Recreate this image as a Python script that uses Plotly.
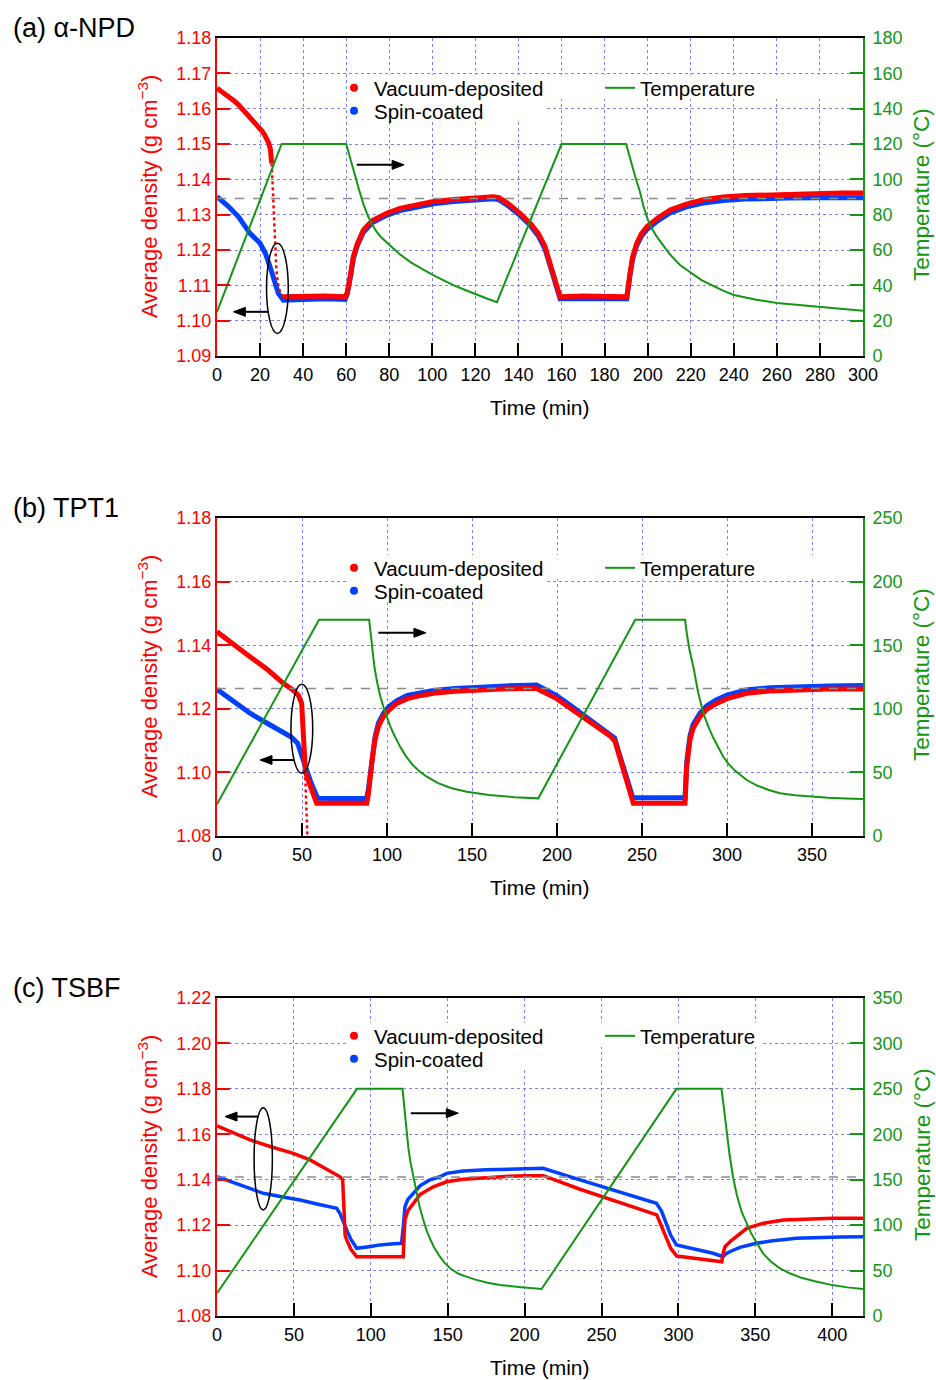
import plotly.graph_objects as go

# ------------------------------------------------------------------ data
# (a) alpha-NPD
ta_vac1 = [0, 2, 4, 6, 8, 10, 12, 14, 16, 18, 20, 21, 22, 23, 24, 24.8, 25.4]
da_vac1 = [1.1658, 1.1650, 1.1641, 1.1632, 1.1622, 1.1611, 1.1598, 1.1585, 1.1572, 1.1559,
           1.1544, 1.1536, 1.1527, 1.1517, 1.1503, 1.1485, 1.1445]
ta_vac_drop = [25.4, 26.2, 26.9, 27.6, 28.5, 29.5, 30.8]
da_vac_drop = [1.1445, 1.133, 1.121, 1.114, 1.1096, 1.1078, 1.1068]
ta_vac2 = [30.8, 40, 50, 59.5, 60.5, 62, 63.3, 65, 68, 72, 78.8, 85, 92, 100.5, 110, 120,
           128.3, 131, 135, 140.7, 145.4, 149.2, 152.3, 155, 157.5, 159.3, 170, 180, 190.3,
           191.8, 193, 194.9, 197, 199.6, 205, 210.4, 218, 225.8, 235, 245, 253.7, 265, 280,
           290, 300]
da_vac2 = [1.1068, 1.107, 1.107, 1.1068, 1.108, 1.113, 1.1181, 1.1215, 1.1257, 1.1283, 1.1304,
           1.1318, 1.1328, 1.1337, 1.1343, 1.1348, 1.1351, 1.1348, 1.1332, 1.1304, 1.1276,
           1.1247, 1.121, 1.1155, 1.110, 1.1068, 1.107, 1.107, 1.1068, 1.1134, 1.118, 1.1219,
           1.1245, 1.1266, 1.1292, 1.1313, 1.133, 1.1342, 1.135, 1.1354, 1.1356, 1.1358,
           1.136, 1.1361, 1.1361]
ta_spin = [0, 5, 10, 15.3, 20, 22.5, 24.6, 26.5, 28.5, 30.8, 40, 50, 59.5, 60.5, 62, 63.3, 65,
           68, 72, 78.8, 85, 92, 100.5, 110, 120, 128.3, 131, 135, 140.7, 145.4, 149.2, 152.3,
           155, 157.5, 159.3, 170, 180, 190.3, 191.8, 193, 194.9, 197, 199.6, 205, 210.4, 218,
           225.8, 235, 245, 253.7, 265, 280, 290, 300]
da_spin = [1.1351, 1.1325, 1.1294, 1.1247, 1.1219, 1.119, 1.1153, 1.1115, 1.1077, 1.1058,
           1.106, 1.1062, 1.106, 1.1075, 1.1125, 1.1175, 1.121, 1.125, 1.1277, 1.1298, 1.1312,
           1.1322, 1.1331, 1.1337, 1.1342, 1.1345, 1.1342, 1.1326, 1.1298, 1.127, 1.124,
           1.1203, 1.115, 1.1098, 1.1062, 1.1063, 1.1064, 1.1062, 1.1128, 1.1174, 1.1212,
           1.1238, 1.1258, 1.1284, 1.1305, 1.1322, 1.1333, 1.134, 1.1344, 1.1346, 1.1347,
           1.1348, 1.1348, 1.1348]
ta_temp = [0, 30, 60, 62, 64, 66, 68, 70, 72, 74, 76, 78, 80, 85, 90, 95, 100, 105, 110, 115,
           120, 125, 130, 160, 190, 192, 194, 196.4, 198, 200, 202, 204, 206, 208, 210, 215, 220,
           225, 230, 235, 240, 250, 260, 270, 280, 290, 300]
Ta_temp = [25, 120, 120, 111, 102.5, 94, 86, 79.5, 74.5, 70.5, 67.5, 65, 63, 57.5, 53, 49.5,
           46, 43, 40, 37.5, 35, 32.7, 30.5, 120, 120, 111, 102.5, 93, 85, 77.5, 72, 68, 64.5,
           61, 58, 51.5, 47, 43, 40, 37, 34.5, 32, 30, 28.8, 27.7, 26.6, 25.6]
ref_a = 1.1346

# (b) TPT1
tb_vac1 = [0, 10, 19.4, 30, 39, 45, 47.8, 49.8, 50.6, 51.4, 52, 53, 55.5, 58.6, 70, 80, 88.1,
           89, 90, 91.5, 92.9, 95, 97.8, 101, 105.7, 112, 120, 127.2, 140, 155, 170, 184.1,
           188, 199.8, 207, 215.5, 223, 231.2, 234.1, 236, 238.5, 240.5, 242.9, 244.9, 255,
           265, 275.3, 276.3, 277.2, 278.2, 280, 284.1, 288, 293.9, 300, 311.6, 325, 340, 360,
           380]
db_vac1 = [1.1442, 1.1404, 1.1364, 1.1322, 1.128, 1.1258, 1.1243, 1.1217, 1.115, 1.106, 1.1003,
           1.0985, 1.0945, 1.0903, 1.0903, 1.0903, 1.0903, 1.093, 1.0986, 1.105, 1.1102, 1.1145,
           1.1175, 1.1195, 1.1217, 1.1232, 1.1242, 1.1249, 1.1255, 1.126, 1.1263, 1.1264,
           1.1264, 1.1232, 1.1205, 1.1172, 1.1145, 1.1115, 1.1098, 1.1062, 1.1014, 1.0976,
           1.0928, 1.0903, 1.0903, 1.0903, 1.0903, 1.1018, 1.1065, 1.1102, 1.1138, 1.1175,
           1.1198, 1.1217, 1.1232, 1.1249, 1.1256, 1.126, 1.1262, 1.1262]
tb_vac_drop = [51.8, 52.3, 52.8, 53.3]
db_vac_drop = [1.1003, 1.092, 1.085, 1.078]
tb_spin = [0, 10, 19.4, 30, 43.5, 47.4, 50.4, 53.4, 56, 59.3, 70, 80, 88, 89, 90, 91.5, 93, 95,
           98, 101, 105.8, 112, 120, 127.3, 140, 155, 170, 188, 199.6, 207, 215.2, 223, 231,
           233.9, 236, 238.5, 240.5, 242.7, 244.6, 255, 265, 275.3, 276.3, 277.2, 278.2, 280,
           284.1, 288, 293.6, 300, 311.2, 325, 340, 360, 380]
db_spin = [1.1261, 1.1224, 1.1186, 1.1153, 1.1112, 1.1092, 1.1039, 1.0997, 1.0958, 1.0919,
           1.0918, 1.0918, 1.0918, 1.0945, 1.0995, 1.1058, 1.1112, 1.1156, 1.1186, 1.1206,
           1.1226, 1.1242, 1.1252, 1.1258, 1.1264, 1.1269, 1.1272, 1.1275, 1.1242, 1.1214,
           1.1182, 1.1153, 1.1124, 1.1108, 1.107, 1.1025, 1.099, 1.0955, 1.092, 1.092, 1.092,
           1.092, 1.1032, 1.1078, 1.1114, 1.115, 1.1186, 1.1209, 1.1228, 1.1243, 1.1259,
           1.1266, 1.127, 1.1272, 1.1273]
tb_temp = [0, 60, 89.5, 90.5, 91.5, 92.5, 94, 96, 98, 100, 102, 104, 106, 108, 111, 115, 119,
           123.4, 130, 138, 147, 160, 175, 189, 246, 275.3, 276.5, 278, 280.2, 283, 286.1, 289,
           292, 295, 297.8, 301, 305, 311.6, 318, 325, 331.2, 340, 350, 359.4, 370, 380]
Tb_temp = [25, 170, 170, 157, 145, 134, 122, 110, 101, 93, 86, 80, 74.5, 69.5, 63, 56, 51,
           46.6, 41.5, 37.5, 34.8, 32.3, 30.5, 29.6, 170, 170, 158, 146, 133, 113, 96.5, 86, 77,
           69, 62.3, 56.5, 51, 44, 39.5, 36, 33.6, 32, 30.8, 30, 29.4, 29]
ref_b = 1.1264

# (c) TSBF
tc_vac1 = [0, 10, 21.5, 35, 49.6, 60.5, 70, 80, 81.7, 82.2, 82.6, 83.3, 84.3, 87, 90.8, 100,
           110, 121.1, 121.6, 122.2, 124, 127.6, 132, 140.6, 149.3, 160, 175, 190, 200, 210,
           212.2, 236, 260, 285.9, 289, 292, 295, 298.9, 310, 320, 328.2, 329, 330.3, 334, 340,
           344.4, 350, 355.2, 368.2, 380, 400, 420]
dc_vac1 = [1.1637, 1.1608, 1.1575, 1.1545, 1.1516, 1.1487, 1.145, 1.1413, 1.1399, 1.13,
           1.1193, 1.1155, 1.1135, 1.1095, 1.1061, 1.1061, 1.1061, 1.1061, 1.115, 1.1223,
           1.1262, 1.1296, 1.1335, 1.1369, 1.1391, 1.1402, 1.141, 1.1415, 1.1418, 1.1421,
           1.1418, 1.1358, 1.1302, 1.1245, 1.1195, 1.1145, 1.1098, 1.1064, 1.1056, 1.1048,
           1.1039, 1.1075, 1.1105, 1.113, 1.1164, 1.1186, 1.1198, 1.1208, 1.1223, 1.1227,
           1.123, 1.123]
tc_spin = [0, 15, 30.1, 42, 53.9, 65, 77.8, 79.9, 82, 84.3, 87, 90.8, 100, 105.9, 113, 120,
           121.2, 122.2, 124, 127.6, 132, 138, 144.9, 149.3, 160, 175, 190, 200, 212, 236, 260,
           285.7, 289, 292, 295, 298.7, 310, 322.5, 329, 330.5, 333.3, 340, 350.7, 360, 376.7,
           390, 405, 420]
dc_spin = [1.1413, 1.1378, 1.134, 1.1325, 1.1311, 1.1293, 1.1274, 1.1252, 1.1215, 1.1179,
           1.1138, 1.1098, 1.1106, 1.1113, 1.1117, 1.112, 1.12, 1.1281, 1.1312, 1.134, 1.1373,
           1.1398, 1.1413, 1.1428, 1.1438, 1.1444, 1.1447, 1.1449, 1.145, 1.1399, 1.135,
           1.1296, 1.1262, 1.1205, 1.1155, 1.1113, 1.1095, 1.1076, 1.1061, 1.1072, 1.1083,
           1.1102, 1.112, 1.113, 1.1142, 1.1146, 1.1148, 1.1149]
tc_temp = [0, 91, 120.6, 121.4, 122.2, 123.2, 124.4, 125.8, 127.6, 129.5, 131.5, 133.8, 136.2,
           138.5, 141, 144.9, 148, 152, 157, 162.2, 168, 176, 184, 196, 207.8, 211, 298.7, 328,
           329.5, 331.2, 333.2, 335.5, 338, 341, 344.2, 347, 350, 355, 360, 366, 372.3, 380,
           388, 394, 400, 410, 420]
Tc_temp = [25, 250, 250, 235, 219, 202, 185, 169, 153, 137, 122, 107.5, 94.6, 85, 76, 65.3,
           58.5, 52, 46.5, 43.3, 40, 36.5, 34.1, 32, 30.5, 29.7, 250, 250, 230, 204.7, 178, 153,
           133, 115, 102, 92, 83, 69, 60, 52.5, 47, 42, 38.5, 36, 34, 31.5, 29.7]
ref_c = 1.1412

panel_labels = ["(a) \u03b1-NPD", "(b) TPT1", "(c) TSBF"]
series_names = ["Vacuum-deposited", "Spin-coated", "Temperature"]
x_title = "Time (min)"
y_title = "Average density (g cm<sup>\u22123</sup>)"
y2_title = "Temperature (\u00b0C)"

# ------------------------------------------------------------------ style
RED = "rgb(255,0,0)"
BLUE = "rgb(0,64,255)"
GREEN = "rgb(20,150,20)"
GRID = "rgb(125,125,255)"
FONT = "Liberation Sans, Arial, sans-serif"
W, H = 936, 1380
PX0, PX1 = 217, 863
PH = 318


def fx(x):
    return x / W


def fy(y):
    return 1 - y / H


panels = [
    dict(top=38, xr=[0, 300], xd=20, yr=[1.09, 1.18], yd=0.01, y2r=[0, 180], y2d=20,
         vac=[(ta_vac1, da_vac1, "solid"), (ta_vac_drop, da_vac_drop, "dot"), (ta_vac2, da_vac2, "solid")],
         spin=(ta_spin, da_spin), temp=(ta_temp, Ta_temp), ref=ref_a, lw=5,
         ell=(23.0, 33.1, 1.0964, 1.1219), arrL=((23.8, 1.1025), (7.6, 1.1025)),
         arrR=((64.9, 1.1441), (86.9, 1.1441)), leg_dy=50, box1=850, box2=545),
    dict(top=518, xr=[0, 380], xd=50, yr=[1.08, 1.18], yd=0.02, y2r=[0, 250], y2d=50,
         vac=[(tb_vac1, db_vac1, "solid"), (tb_vac_drop, db_vac_drop, "dot")],
         spin=(tb_spin, db_spin), temp=(tb_temp, Tb_temp), ref=ref_b, lw=5,
         ell=(43.5, 56.3, 1.0997, 1.1277), arrL=((45.5, 1.1039), (25.3, 1.1039)),
         arrR=((94.9, 1.1439), (122.9, 1.1439)), leg_dy=50, box1=850, box2=545),
    dict(top=998, xr=[0, 420], xd=50, yr=[1.08, 1.22], yd=0.02, y2r=[0, 350], y2d=50,
         vac=[(tc_vac1, dc_vac1, "solid")],
         spin=(tc_spin, dc_spin), temp=(tc_temp, Tc_temp), ref=ref_c, lw=3.5,
         ell=(24.1, 36.0, 1.1267, 1.1717), arrL=((26.9, 1.1678), (5.2, 1.1678)),
         arrR=((126.0, 1.1693), (156.9, 1.1693)), leg_dy=38, box1=760, box2=545),
]

fig = go.Figure()
layout = dict(width=W, height=H, margin=dict(l=0, r=0, t=0, b=0),
              paper_bgcolor="white", plot_bgcolor="white",
              font=dict(family=FONT, color="black"), showlegend=True)
annotations = []
shapes = []

for i, p in enumerate(panels):
    n = i + 1
    xa = "x" if n == 1 else f"x{n}"
    ya = f"y{2 * n - 1}" if n > 1 else "y"
    ya2 = f"y{2 * n}"
    xkey = "xaxis" if n == 1 else f"xaxis{n}"
    ykey = "yaxis" if n == 1 else f"yaxis{2 * n - 1}"
    y2key = f"yaxis{2 * n}"
    top = p["top"]
    bot = top + PH
    xspan = p["xr"][1] - p["xr"][0]
    yspan = p["yr"][1] - p["yr"][0]

    def dx(px_, p=p, xspan=xspan):
        return p["xr"][0] + (px_ - PX0) / (PX1 - PX0) * xspan

    def dy(py_, p=p, top=top, yspan=yspan):
        return p["yr"][1] - (py_ - top) / PH * yspan

    def to_px(xv, p=p, xspan=xspan):
        return PX0 + (xv - p["xr"][0]) / xspan * (PX1 - PX0)

    def to_py(yv, p=p, top=top, yspan=yspan):
        return top + (p["yr"][1] - yv) / yspan * PH

    layout[xkey] = dict(domain=[fx(PX0), fx(PX1)], anchor=ya, range=p["xr"], dtick=p["xd"], tick0=0,
                        ticks="inside", ticklen=13, tickwidth=2, tickcolor="black",
                        showline=True, linecolor="black", linewidth=2, mirror=True,
                        showgrid=True, gridcolor=GRID, griddash="dot", gridwidth=1,
                        zeroline=False, tickfont=dict(size=18, color="black", family=FONT),
                        ticklabelstandoff=1, automargin=False)
    layout[ykey] = dict(domain=[fy(bot), fy(top)], anchor=xa, range=p["yr"], dtick=p["yd"],
                        tick0=p["yr"][0], tickformat=".2f",
                        ticks="inside", ticklen=13, tickwidth=2, tickcolor=RED,
                        showline=True, linecolor=RED, linewidth=2,
                        showgrid=True, gridcolor=GRID, griddash="dot", gridwidth=1,
                        zeroline=False, tickfont=dict(size=18, color=RED, family=FONT),
                        automargin=False)
    layout[y2key] = dict(overlaying=ya, side="right", anchor=xa, range=p["y2r"], dtick=p["y2d"],
                         tick0=0, ticks="inside", ticklen=13, tickwidth=2, tickcolor=GREEN,
                         showline=True, linecolor=GREEN, linewidth=2, showgrid=False,
                         zeroline=False, tickfont=dict(size=18, color=GREEN, family=FONT),
                         ticklabelstandoff=4, automargin=False)

    # data traces
    fig.add_trace(go.Scatter(x=p["spin"][0], y=p["spin"][1], mode="lines", xaxis=xa, yaxis=ya,
                             line=dict(color=BLUE, width=p["lw"]), showlegend=False))
    for (tt, dd, dash) in p["vac"]:
        fig.add_trace(go.Scatter(x=tt, y=dd, mode="lines", xaxis=xa, yaxis=ya,
                                 line=dict(color=RED, width=2.5 if dash == "dot" else p["lw"], dash=dash),
                                 showlegend=False))
    fig.add_trace(go.Scatter(x=p["xr"], y=[p["ref"], p["ref"]], mode="lines", xaxis=xa, yaxis=ya,
                             line=dict(color="rgb(140,140,140)", width=1.5, dash="dash"),
                             showlegend=False))
    fig.add_trace(go.Scatter(x=p["temp"][0], y=p["temp"][1], mode="lines", xaxis=xa, yaxis=ya2,
                             line=dict(color=GREEN, width=2), showlegend=False))

    # legend entries (one legend per entry for exact placement)
    lg = [f"legend{3 * i + k + 1}" if (3 * i + k) > 0 else "legend" for k in range(3)]
    row1 = top + p["leg_dy"]
    row2 = row1 + 23
    fig.add_trace(go.Scatter(x=[None], y=[None], mode="markers", name=series_names[0], xaxis=xa,
                             yaxis=ya, marker=dict(color=RED, size=8), legend=lg[0]))
    fig.add_trace(go.Scatter(x=[None], y=[None], mode="markers", name=series_names[1], xaxis=xa,
                             yaxis=ya, marker=dict(color=BLUE, size=8), legend=lg[1]))
    fig.add_trace(go.Scatter(x=[None], y=[None], mode="lines", name=series_names[2], xaxis=xa,
                             yaxis=ya2, line=dict(color=GREEN, width=2), legend=lg[2]))
    for k, (lx, ly) in enumerate([(334, row1), (334, row2), (600, row1)]):
        layout[lg[k]] = dict(x=fx(lx), y=fy(ly), xanchor="left", yanchor="middle",
                             bgcolor="rgba(0,0,0,0)", borderwidth=0,
                             font=dict(size=20.5, color="black", family=FONT))

    # white legend background boxes that hide the grid (between grid and data)
    shapes.append(dict(type="rect", xref=xa, yref=ya, layer="between",
                       x0=dx(347), x1=dx(p["box1"]), y0=dy(row1 + 11), y1=dy(row1 - 13),
                       fillcolor="white", line=dict(width=0)))
    shapes.append(dict(type="rect", xref=xa, yref=ya, layer="between",
                       x0=dx(347), x1=dx(p["box2"]), y0=dy(row2 + 11), y1=dy(row2 - 12),
                       fillcolor="white", line=dict(width=0)))

    # ellipse
    e = p["ell"]
    shapes.append(dict(type="circle", xref=xa, yref=ya, x0=e[0], x1=e[1], y0=e[2], y1=e[3],
                       line=dict(color="black", width=1.5)))
    # arrows: shaft line + filled triangular head (horizontal arrows)
    for (tail, head) in (p["arrL"], p["arrR"]):
        hx, hy = to_px(head[0]), to_py(head[1])
        tx = to_px(tail[0])
        sgn = 1 if hx > tx else -1
        base = hx - sgn * 12
        shapes.append(dict(type="line", xref=xa, yref=ya, x0=tail[0], y0=tail[1],
                           x1=dx(base), y1=head[1], line=dict(color="black", width=2)))
        path = (f"M {dx(hx)},{head[1]} L {dx(base)},{dy(hy - 4.5)} "
                f"L {dx(base)},{dy(hy + 4.5)} Z")
        shapes.append(dict(type="path", xref=xa, yref=ya, path=path, fillcolor="black",
                           line=dict(color="black", width=1)))

    # titles
    annotations.append(dict(x=fx(11), y=fy(top - 10), xref="paper", yref="paper", text=panel_labels[i],
                            showarrow=False, xanchor="left", yanchor="middle",
                            font=dict(size=27, color="black", family=FONT)))
    annotations.append(dict(x=fx(540), y=fy(bot + 51), xref="paper", yref="paper", text=x_title,
                            showarrow=False, xanchor="center", yanchor="middle",
                            font=dict(size=21, color="black", family=FONT)))
    annotations.append(dict(x=fx(148), y=fy(top + 159), xref="paper", yref="paper", text=y_title,
                            showarrow=False, xanchor="center", yanchor="middle", textangle=-90,
                            font=dict(size=22, color=RED, family=FONT)))
    annotations.append(dict(x=fx(922), y=fy(top + 157), xref="paper", yref="paper", text=y2_title,
                            showarrow=False, xanchor="center", yanchor="middle", textangle=-90,
                            font=dict(size=22.5, color=GREEN, family=FONT)))

layout["annotations"] = annotations
layout["shapes"] = shapes
fig.update_layout(**layout)
fig.write_html("out.html")
